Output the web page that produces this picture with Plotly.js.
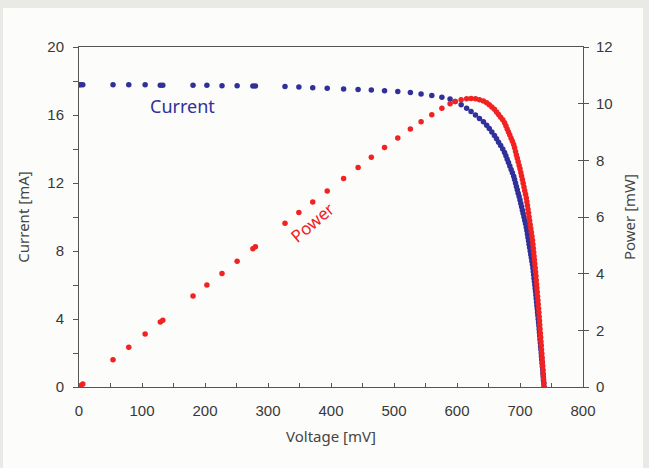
<!DOCTYPE html>
<html>
<head>
<meta charset="utf-8">
<script src="https://cdn.plot.ly/plotly-3.0.1.min.js"></script>
<style>html,body{margin:0;padding:0;background:#e9e9e5;overflow:hidden;}#chart{width:649px;height:468px;}</style>
</head>
<body>
<div id="chart"></div>
<script>
// Voltage [mV] of each measured point
const voltage = [0, 3, 6, 54, 79, 105, 129, 133, 181, 203, 227, 251, 276, 280, 327, 349, 371, 394, 420, 443, 464, 485, 506, 526, 543, 560, 576, 589,
  597.1, 606.6, 615.3, 622.3, 629.3, 635.6, 641.9, 647.1, 651.2, 655.3, 659.4, 662.8, 666.0, 669.3, 672.6,
  675.5, 677.6, 679.7, 681.7, 683.8, 685.9, 687.9, 690.0, 691.4, 692.9, 694.3, 695.7, 697.1, 698.6, 700.0,
  701.3, 702.5, 703.8, 705.0, 706.3, 707.5, 708.8, 710.0, 710.9, 711.8, 712.7, 713.6, 714.4, 715.3, 716.2,
  717.1, 718.0, 718.9, 719.8, 720.5, 721.1, 721.7, 722.3, 722.9, 723.5, 724.1, 724.7, 725.3, 725.8, 726.3,
  726.8, 727.4, 727.9, 728.4, 728.9, 729.5, 730.0, 730.5, 730.9, 731.4, 731.8, 732.3, 732.8, 733.2, 733.7,
  734.1, 734.6, 735.1, 735.5, 736.0, 736.4, 736.9, 737.3, 737.8, 738.2];
// Current [mA]
const current = [17.78, 17.78, 17.78, 17.78, 17.78, 17.78, 17.75, 17.75, 17.75, 17.75, 17.72, 17.72, 17.70, 17.70, 17.67, 17.64, 17.60, 17.57, 17.53, 17.50, 17.47, 17.43, 17.38, 17.32, 17.24, 17.15, 17.05, 16.94,
  16.8, 16.6, 16.4, 16.2, 16.0, 15.8, 15.6, 15.4, 15.2, 15.0, 14.8, 14.6, 14.4, 14.2, 14.0,
  13.8, 13.6, 13.4, 13.2, 13.0, 12.8, 12.6, 12.4, 12.2, 12.0, 11.8, 11.6, 11.4, 11.2, 11.0,
  10.8, 10.6, 10.4, 10.2, 10.0, 9.8, 9.6, 9.4, 9.2, 9.0, 8.8, 8.6, 8.4, 8.2, 8.0,
  7.8, 7.6, 7.4, 7.2, 7.0, 6.8, 6.6, 6.4, 6.2, 6.0, 5.8, 5.6, 5.4, 5.2, 5.0,
  4.8, 4.6, 4.4, 4.2, 4.0, 3.8, 3.6, 3.4, 3.2, 3.0, 2.8, 2.6, 2.4, 2.2, 2.0,
  1.8, 1.6, 1.4, 1.2, 1.0, 0.8, 0.6, 0.4, 0.2, 0.0];
// Power [mW]
const power = [0.00, 0.05, 0.11, 0.96, 1.40, 1.87, 2.29, 2.36, 3.21, 3.60, 4.01, 4.44, 4.88, 4.95, 5.78, 6.16, 6.53, 6.92, 7.36, 7.75, 8.11, 8.45, 8.79, 9.11, 9.36, 9.61, 9.84, 10.00,
  10.08, 10.14, 10.17, 10.18, 10.17, 10.14, 10.09, 10.03, 9.96, 9.88, 9.80, 9.71, 9.62, 9.52, 9.43,
  9.33, 9.22, 9.11, 9.00, 8.89, 8.78, 8.67, 8.56, 8.44, 8.31, 8.19, 8.07, 7.95, 7.82, 7.70,
  7.57, 7.45, 7.32, 7.19, 7.06, 6.93, 6.80, 6.67, 6.54, 6.41, 6.27, 6.14, 6.00, 5.87, 5.73,
  5.59, 5.46, 5.32, 5.18, 5.04, 4.90, 4.76, 4.62, 4.48, 4.34, 4.20, 4.06, 3.92, 3.77, 3.63,
  3.49, 3.35, 3.20, 3.06, 2.92, 2.77, 2.63, 2.48, 2.34, 2.19, 2.05, 1.90, 1.76, 1.61, 1.47,
  1.32, 1.18, 1.03, 0.88, 0.74, 0.59, 0.44, 0.29, 0.15, 0.00];

const xTickVals = [0, 100, 200, 300, 400, 500, 600, 700, 800];
const yLeftTicks = [0, 4, 8, 12, 16, 20];
const yRightTicks = [0, 2, 4, 6, 8, 10, 12];

const BLUE = '#30309a';
const RED = '#f02222';
const TICKFONT = {family: 'Liberation Sans, Arial, sans-serif', size: 15, color: '#383838'};
const TITLEFONT = {family: 'Noto Sans, Open Sans, sans-serif', size: 15, color: '#454545'};

const traces = [
  {x: voltage, y: current, type: 'scatter', mode: 'markers', name: 'Current',
   marker: {color: BLUE, size: 5.5, symbol: 'circle'}, xaxis: 'x', yaxis: 'y', hoverinfo: 'skip'},
  {x: voltage, y: power, type: 'scatter', mode: 'markers', name: 'Power',
   marker: {color: RED, size: 5.5, symbol: 'circle'}, xaxis: 'x', yaxis: 'y2', hoverinfo: 'skip'},
  {x: [], y: [], type: 'scatter', mode: 'markers', yaxis: 'y3', showlegend: false, hoverinfo: 'skip'}
];

const layout = {
  width: 649, height: 468,
  margin: {l: 79, r: 66, t: 47, b: 81, pad: 0, autoexpand: false},
  paper_bgcolor: '#e9e9e5',
  plot_bgcolor: 'rgba(0,0,0,0)',
  showlegend: false,
  shapes: [
    {type: 'rect', xref: 'paper', yref: 'paper', x0: -0.1508, x1: 1.119, y0: -0.24, y1: 1.1147,
     fillcolor: '#fcfcfa', line: {width: 0}, layer: 'below'}
  ],
  xaxis: {
    range: [0, 800], tickvals: xTickVals, ticktext: xTickVals.map(String),
    ticks: 'inside', ticklen: 4, tickcolor: '#555', tickwidth: 1,
    minor: {dtick: 50, tick0: 0, ticks: 'inside', ticklen: 4, tickcolor: '#555'},
    showline: true, linecolor: '#555', linewidth: 1, mirror: true,
    showgrid: false, zeroline: false, automargin: false,
    tickfont: TICKFONT, ticklabelstandoff: 10,
    title: {text: 'Voltage [mV]', font: TITLEFONT, standoff: 13}
  },
  yaxis: {
    range: [0, 20], tickvals: yLeftTicks, ticktext: yLeftTicks.map(String),
    ticks: 'outside', ticklen: 5, tickcolor: '#555',
    minor: {dtick: 2, tick0: 0, ticks: 'outside', ticklen: 5, tickcolor: '#555'},
    showline: true, linecolor: '#555', linewidth: 1,
    showgrid: false, zeroline: false, automargin: false,
    tickfont: TICKFONT, ticklabelstandoff: 6,
    title: {text: 'Current [mA]', font: TITLEFONT, standoff: 14}
  },
  yaxis2: {
    range: [0, 12], tickvals: yRightTicks, ticktext: yRightTicks.map(String),
    overlaying: 'y', side: 'right', anchor: 'x',
    ticks: 'outside', ticklen: 5, tickcolor: '#555',
    showline: true, linecolor: '#555', linewidth: 1,
    showgrid: false, zeroline: false, automargin: false,
    tickfont: TICKFONT, ticklabelstandoff: 4,
    title: {text: 'Power [mW]', font: TITLEFONT, standoff: 12}
  },
  yaxis3: {
    range: [0, 12], tickvals: yRightTicks, overlaying: 'y', side: 'right', anchor: 'x',
    ticks: 'inside', ticklen: 5, tickcolor: '#555', showticklabels: false,
    showline: false, showgrid: false, zeroline: false, automargin: false
  },
  annotations: [
    {text: 'Current', xref: 'paper', yref: 'paper', x: 0.2063, y: 0.8265, xanchor: 'center', yanchor: 'middle', showarrow: false,
     font: {family: 'Noto Sans, Open Sans, sans-serif', size: 18, color: BLUE}},
    {text: 'Power', xref: 'paper', yref: 'paper', x: 0.4623, y: 0.485, xanchor: 'center', yanchor: 'middle', showarrow: false, textangle: -40,
     font: {family: 'Noto Sans, Open Sans, sans-serif', size: 17, color: RED}}
  ]
};

Plotly.newPlot('chart', traces, layout, {displayModeBar: false, staticPlot: true});
</script>
</body>
</html>
